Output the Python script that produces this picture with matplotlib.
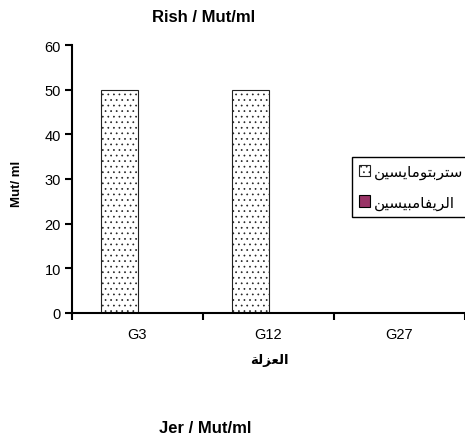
import matplotlib
matplotlib.use("Agg")
import matplotlib.pyplot as plt
import numpy as np
from matplotlib import font_manager as fm

# ---- data ----
categories = ["G3", "G12", "G27"]
strepto_values = [50, 50, 0]
rifamp_values = [0, 0, 0]
yticks = [0, 10, 20, 30, 40, 50, 60]

# Arabic labels written in visual order with presentation forms (matplotlib has no shaping)
def vis(*cps):
    return "".join(chr(c) for c in cps)

strepto_label = vis(0xFEE6, 0xFEF4, 0xFEB4, 0xFEF3, 0xFE8E, 0xFEE3, 0xFEEE,
                    0xFE98, 0xFE91, 0xFEAE, 0xFE98, 0xFEB3)
rifamp_label = vis(0xFEE6, 0xFEF4, 0xFEB4, 0xFEF4, 0xFE92, 0xFEE3, 0xFE8E,
                   0xFED4, 0xFEF3, 0xFEAE, 0xFEDF, 0xFE8D)
xlabel_text = vis(0xFE94, 0xFEDF, 0xFEB0, 0xFECC, 0xFEDF, 0xFE8D)

names = {f.name for f in fm.fontManager.ttflist}
narrow = "Liberation Sans Narrow" if "Liberation Sans Narrow" in names else "Liberation Sans"
plt.rcParams["font.family"] = ["Liberation Sans", "DejaVu Sans"]
plt.rcParams["hatch.color"] = "#6e6e6e"
plt.rcParams["hatch.linewidth"] = 0.5

W, H = 465, 439
fig = plt.figure(figsize=(W / 100, H / 100), dpi=100)
ax = fig.add_axes([72 / W, 1 - 314 / H, 1 - 72 / W, (314 - 46) / H])

x = np.arange(len(categories))
bw = 0.275
b1 = ax.bar(x - bw / 2, strepto_values, bw, facecolor="white", edgecolor="#222222",
            hatch="...", linewidth=0.8, label=strepto_label)
b2 = ax.bar(x + bw / 2, rifamp_values, bw, facecolor="#993366", edgecolor="black",
            linewidth=0.8, label=rifamp_label)

ax.set_xlim(-0.5, 2.5)
ax.set_ylim(0, 60)
ax.set_yticks(yticks)
ax.set_xticks(x)
ax.set_xticklabels(categories, fontsize=10.5)
ax.tick_params(axis="x", which="major", length=0, pad=10)
ax.set_xticks([-0.5, 0.5, 1.5, 2.5], minor=True)
ax.tick_params(axis="x", which="minor", length=5, width=1.5, direction="out")
ax.tick_params(axis="y", length=5, width=1.5, direction="out", labelsize=10.5, pad=3)
for s in ["top", "right"]:
    ax.spines[s].set_visible(False)
for s in ["left", "bottom"]:
    ax.spines[s].set_linewidth(1.5)

fig.text(204 / W, 1 - 17 / H, "Rish / Mut/ml", ha="center", va="center",
         fontsize=12, fontweight="bold", family=[narrow, "DejaVu Sans"])
fig.text(17 / W, 1 - 184 / H, "Mut/ ml", ha="center", va="center", rotation=90,
         fontsize=9.5, fontweight="bold")
fig.text(269 / W, 1 - 361 / H, xlabel_text, ha="center", va="center",
         fontsize=9.5, fontweight="bold", family=["DejaVu Sans"])
fig.text(205 / W, 1 - 429 / H, "Jer / Mut/ml", ha="center", va="center",
         fontsize=12, fontweight="bold", family=[narrow, "DejaVu Sans"])

leg = fig.legend(handles=[b1, b2], loc="upper left",
                 bbox_to_anchor=(352 / W, 1 - 158 / H), frameon=True, fancybox=False,
                 edgecolor="black", framealpha=1, borderpad=0.45, handlelength=0.75,
                 handleheight=0.75, handletextpad=0.25, labelspacing=1.0,
                 borderaxespad=0, prop={"family": ["DejaVu Sans"], "size": 11})
leg.get_frame().set_linewidth(1.0)

fig.savefig("out.png", dpi=100)
